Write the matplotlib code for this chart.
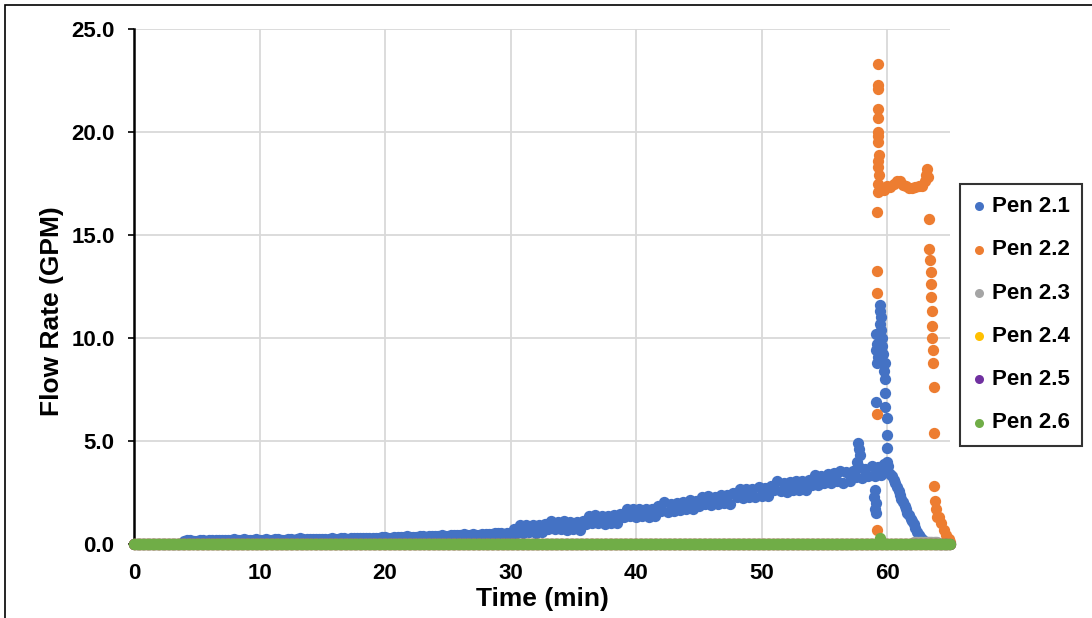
"""Flow rate vs time for pens 2.1 - 2.6, scatter chart saved to out.png."""

import matplotlib

matplotlib.use("Agg")
import matplotlib.pyplot as plt
import numpy as np
from matplotlib.patches import Rectangle

plt.rcParams["font.family"] = ["Liberation Sans", "DejaVu Sans"]
plt.rcParams["font.weight"] = "bold"

# logger samples every 0.5 min (0 .. 65), plus the in-between reads at +0.25 min
log_time = np.arange(0, 65.01, 0.5)
log_time_b = np.arange(0.25, 65.0, 0.5)
# pens 2.3 - 2.6 are logged at 0.1 min
zero_time = np.arange(0, 65.01, 0.1)

pen21_flow = [
    0, 0, 0, 0, 0, 0, 0, 0, 0.15, 0.17,
    0.15, 0.18, 0.17, 0.20, 0.18, 0.20, 0.22, 0.19, 0.21, 0.20,
    0.20, 0.22, 0.20, 0.22, 0.21, 0.23, 0.22, 0.26, 0.23, 0.24,
    0.25, 0.24, 0.26, 0.27, 0.26, 0.28, 0.29, 0.28, 0.31, 0.30,
    0.32, 0.31, 0.34, 0.33, 0.36, 0.35, 0.38, 0.37, 0.40, 0.42,
    0.41, 0.44, 0.43, 0.46, 0.47, 0.46, 0.50, 0.49, 0.52, 0.50,
    0.44, 0.54, 0.54, 0.56, 0.54, 0.58, 0.74, 0.72, 0.74, 0.70,
    0.72, 0.70, 0.96, 1.02, 1.00, 0.98, 1.02, 1.00, 1.30, 1.34,
    1.32, 1.34, 1.30, 1.38, 1.60, 1.56, 1.58, 1.64, 1.72, 1.68,
    1.86, 1.92, 1.88, 1.94, 1.98, 1.94, 2.26, 2.24, 2.28, 2.30,
    2.32, 2.34, 2.60, 2.56, 2.54, 2.64, 2.62, 2.60, 2.88, 2.86,
    2.94, 2.96, 3.04, 2.98, 3.08, 3.24, 3.22, 3.30, 3.28, 3.34,
    3.70, 3.10, 2.40, 1.70, 1.10, 0.45, 0.10, 0.05, 0, 0,
    0,
]
pen21_flow_b = [
    0, 0, 0, 0, 0, 0, 0, 0, 0.17, 0.14,
    0.19, 0.16, 0.19, 0.17, 0.21, 0.19, 0.18, 0.22, 0.20, 0.23,
    0.21, 0.19, 0.23, 0.21, 0.24, 0.21, 0.30, 0.24, 0.22, 0.26,
    0.23, 0.27, 0.25, 0.28, 0.30, 0.27, 0.31, 0.30, 0.29, 0.33,
    0.30, 0.35, 0.32, 0.37, 0.34, 0.39, 0.36, 0.41, 0.39, 0.40,
    0.45, 0.42, 0.47, 0.45, 0.44, 0.50, 0.48, 0.53, 0.51, 0.55,
    0.72, 0.90, 0.92, 0.90, 0.94, 0.96, 1.12, 1.08, 1.10, 1.06,
    1.08, 1.10, 1.36, 1.42, 1.38, 1.36, 1.40, 1.48, 1.70, 1.72,
    1.68, 1.72, 1.70, 1.86, 2.02, 1.96, 1.98, 2.04, 2.12, 2.10,
    2.28, 2.32, 2.30, 2.36, 2.40, 2.46, 2.66, 2.68, 2.66, 2.76,
    2.74, 2.80, 3.04, 2.98, 3.00, 3.08, 3.06, 3.10, 3.34, 3.28,
    3.40, 3.46, 3.52, 3.50, 3.56, 3.76, 3.66, 3.78, 3.72, 3.90,
    3.40, 2.75, 2.05, 1.40, 0.80, 0.25, 0.08, 0, 0, 0,
]
pen22_flow = [0.02] * 119 + [17.3, 17.4, 17.5, 17.6, 17.4, 17.3, 17.4, 17.6, 12.6, 1.3, 0.7, 0.1]
pen23_flow = [0.0] * 621 + [0.1] * 20 + [0.0] * 10
pen24_flow = [0.0] * 651
pen25_flow = [0.0] * 651
pen26_flow = [0.0] * 594 + [0.3] + [0.0] * 56

# extra fast readings around the surge near 57-63 min
pen21_surge_t = [57.7, 57.75, 57.8, 57.6, 59.45, 59.45, 59.5, 59.4, 59.5, 59.1, 59.55, 59.2,
                 59.1, 59.6, 59.25, 59.7, 59.15, 59.8, 59.75, 59.85, 59.85, 59.1, 59.85,
                 59.95, 59.95, 59.95, 60.0, 59.0, 58.95, 59.1, 59.05, 59.1,
                 60.1, 60.4, 60.6, 60.9, 61.1, 61.4, 61.6, 61.9, 62.1, 62.4, 62.6, 62.9]
pen21_surge_v = [4.9, 4.6, 4.3, 4.0, 11.6, 11.3, 11.0, 10.7, 10.4, 10.2, 10.0, 9.7,
                 9.4, 9.6, 9.1, 9.2, 8.8, 8.8, 8.4, 8.0, 7.35, 6.9, 6.65,
                 6.1, 5.3, 4.65, 4.0, 2.6, 2.3, 2.0, 1.7, 1.5,
                 3.8, 3.3, 2.95, 2.55, 2.2, 1.85, 1.5, 1.2, 0.95, 0.6, 0.35, 0.15]
pen22_surge_t = [59.25, 59.25, 59.25, 59.3, 59.3, 59.3, 59.3, 59.3, 59.35, 59.3, 59.3, 59.35,
                 59.3, 59.25, 59.2, 59.2, 59.2, 59.15, 59.2,
                 59.75, 60.25, 60.75, 61.25, 61.75, 62.25, 62.75, 63.1, 63.2, 63.25,
                 63.3, 63.35, 63.4, 63.45, 63.5, 63.55, 63.58, 63.6, 63.62, 63.65, 63.7,
                 63.72, 63.75, 63.8, 63.9, 64.1, 64.3, 64.7, 64.9]
pen22_surge_v = [23.3, 22.3, 22.1, 21.1, 20.7, 20.0, 19.8, 19.5, 18.9, 18.6, 18.3, 17.9,
                 17.5, 17.1, 16.1, 13.25, 12.2, 6.3, 0.7,
                 17.2, 17.35, 17.6, 17.45, 17.3, 17.35, 17.4, 17.9, 18.2, 17.8,
                 15.8, 14.3, 13.8, 13.2, 12.0, 11.3, 10.6, 10.0, 9.4, 8.8, 7.6,
                 5.4, 2.8, 2.1, 1.7, 1.3, 1.0, 0.45, 0.25]

pen_names = ["Pen 2.1", "Pen 2.2", "Pen 2.3", "Pen 2.4", "Pen 2.5", "Pen 2.6"]
pen_colors = ["#4472C4", "#ED7D31", "#A5A5A5", "#FFC000", "#7030A0", "#70AD47"]

fig = plt.figure(figsize=(10.92, 6.18), dpi=100)
ax = fig.add_axes([134 / 1092, 1 - 544 / 618, 816 / 1092, 515 / 618])

series = [
    (np.concatenate([log_time, log_time_b, pen21_surge_t]), pen21_flow + pen21_flow_b + pen21_surge_v),
    (np.concatenate([log_time, pen22_surge_t]), pen22_flow + pen22_surge_v),
    (zero_time, pen23_flow),
    (zero_time, pen24_flow),
    (zero_time, pen25_flow),
    (zero_time, pen26_flow),
]
for (t, v), name, color in zip(series, pen_names, pen_colors):
    ax.scatter(t, v, s=66, color=color, linewidths=0, label=name, zorder=3, clip_on=False)

ax.set_xlim(0, 65)
ax.set_ylim(0, 25)
ax.set_xticks([0, 10, 20, 30, 40, 50, 60])
ax.set_yticks([0, 5, 10, 15, 20, 25])
ax.set_yticklabels([f"{v:.1f}" for v in [0, 5, 10, 15, 20, 25]])
ax.grid(True, color="#d9d9d9", linewidth=1.3, zorder=0)
ax.set_axisbelow(True)
for side in ("top", "right"):
    ax.spines[side].set_visible(False)
ax.spines["left"].set_linewidth(1.8)
ax.spines["bottom"].set_linewidth(1.0)
ax.tick_params(direction="out", length=4, width=1.2, pad=10, labelsize=16)

ax.set_xlabel("Time (min)", fontsize=19, fontweight="bold")
ax.set_ylabel("Flow Rate (GPM)", fontsize=19, fontweight="bold")
ax.xaxis.set_label_coords(0.5, -0.083)
ax.yaxis.set_label_coords(-0.086, 0.452)

leg = ax.legend(
    loc="upper left",
    bbox_to_anchor=(960 / 1092, 1 - 184 / 618),
    bbox_transform=fig.transFigure,
    borderaxespad=0,
    fontsize=16,
    frameon=True,
    fancybox=False,
    markerscale=0.8,
    handletextpad=0.3,
    handlelength=0.6,
    labelspacing=1.0,
    borderpad=0.55,
)
leg.get_frame().set_edgecolor("black")
leg.get_frame().set_linewidth(1.5)

# chart-area border (left and top edges fall inside the image)
fig.patches.append(Rectangle((5 / 1092, -0.1), 1.2, 1 - 5.5 / 618 + 0.1, transform=fig.transFigure,
                             fill=False, edgecolor="black", linewidth=1.2))

fig.savefig("out.png", dpi=100)
